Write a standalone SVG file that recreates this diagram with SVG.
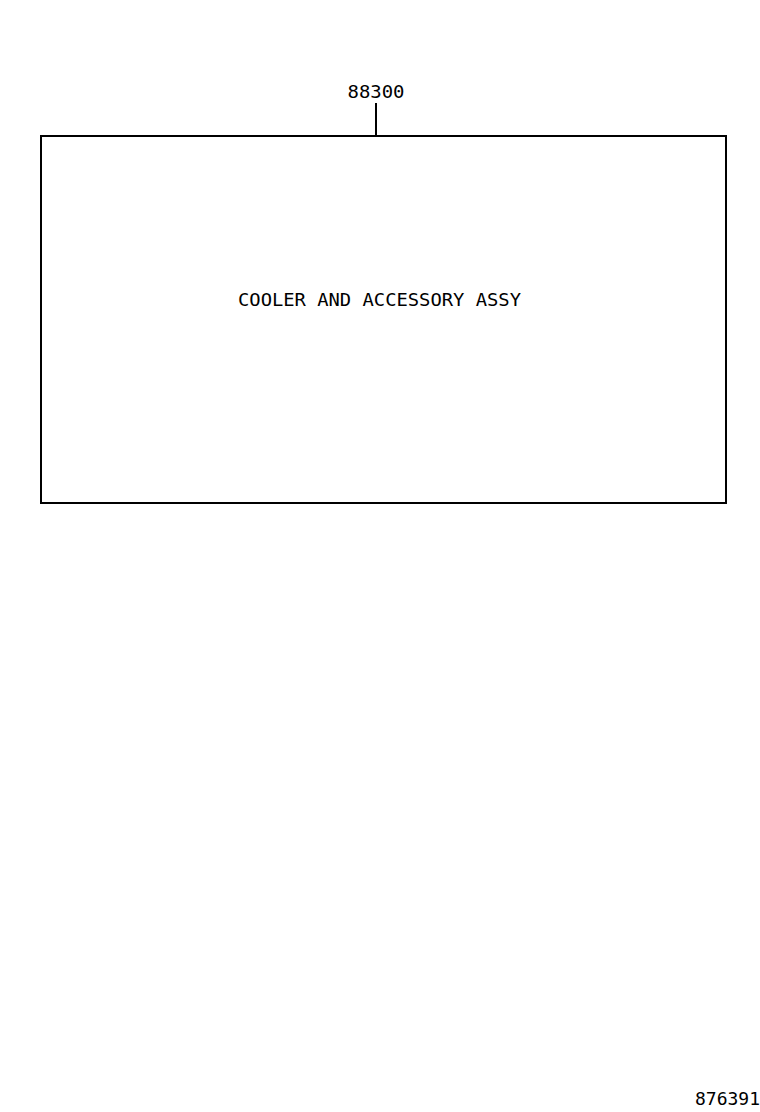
<svg xmlns="http://www.w3.org/2000/svg" width="760" height="1112" viewBox="0 0 760 1112">
<style>
text{font-family:"DejaVu Sans Mono","Liberation Mono",monospace;fill:#000;font-size:18px}
.ln{stroke:#000;stroke-width:2;fill:none}
</style>
<rect width="760" height="1112" fill="#fff"/>
<g id="connectors">
<line class="ln" x1="376" y1="103" x2="376" y2="136"/>
</g>
<g id="node-88300">
<rect class="ln" x="41" y="136" width="685" height="367"/>
<text x="376" y="98" text-anchor="middle" textLength="57" lengthAdjust="spacingAndGlyphs">88300</text>
<text x="238" y="306" textLength="283" lengthAdjust="spacingAndGlyphs">COOLER AND ACCESSORY ASSY</text>
</g>
<g id="figure-number">
<text x="695" y="1105" textLength="65" lengthAdjust="spacingAndGlyphs">876391</text>
</g>
</svg>
